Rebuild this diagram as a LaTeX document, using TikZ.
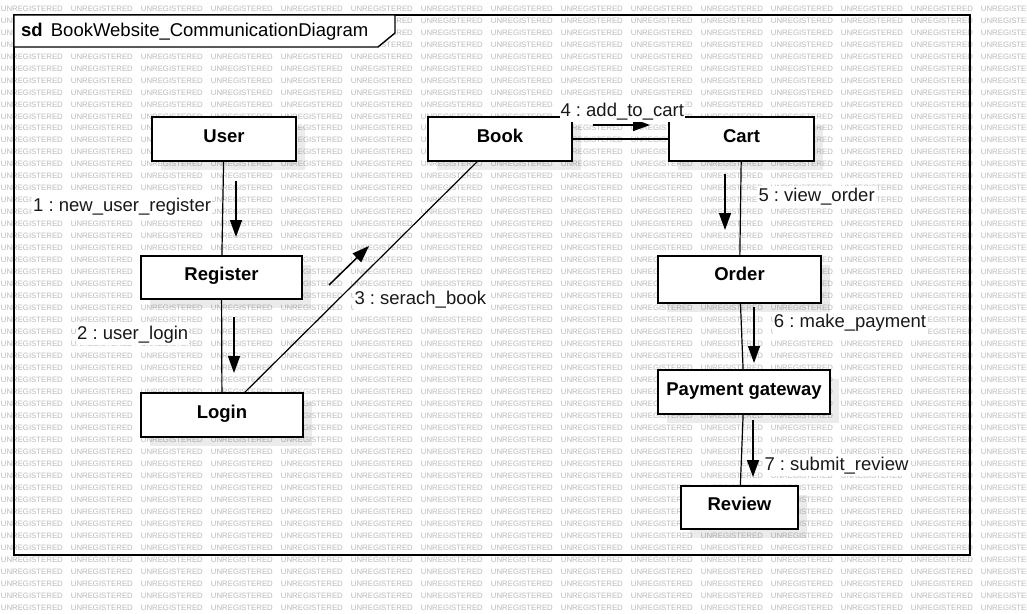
\documentclass[tikz,border=0pt]{standalone}
\usepackage{fontspec}
\setmainfont{Liberation Sans}
\frenchspacing
\usetikzlibrary{arrows.meta,shadows}
\tikzset{
  wm/.style={anchor=west,inner sep=0pt,font=\fontsize{7.8}{8}\selectfont,text=black!27},
  obj/.style={draw=black,line width=1.4pt,fill=white,inner sep=0pt,
    font=\fontsize{18.5}{20}\selectfont\bfseries,text height=13pt,text depth=6pt,
    drop shadow={shadow xshift=9pt,shadow yshift=-9pt,fill=black,opacity=0.08}},
  link/.style={draw=black,line width=1.2pt},
  msg/.style={draw=black,line width=1.5pt,-{Triangle[length=17pt,width=12pt]}},
  lbl/.style={anchor=base west,fill=white,inner xsep=1pt,inner ysep=2pt,
    font=\fontsize{18.5}{20}\selectfont\frenchspacing,text=black!90},
}
\begin{document}
\begin{tikzpicture}[x=1pt,y=-1pt]
\useasboundingbox[fill=white] (0,0) rectangle (1027,613);
% watermark
\foreach \r in {0,...,50}{
  \foreach \c in {0,...,14}{
    \node[wm] at ({\c*70+0.7},{8.5+\r*11.98}) {UNREGISTERED};
  }
}
% frame
\draw[line width=1.4pt] (14,15) rectangle (970,555);
\coordinate (tA) at (14,15);
\coordinate (tB) at (395,15);
\coordinate (tC) at (395,33);
\coordinate (tD) at (378,47);
\coordinate (tE) at (14,47);
\draw[line width=1.4pt,fill=white] (tA) -- (tB) -- (tC) -- (tD) -- (tE) -- cycle;
\node[anchor=base west,inner sep=0pt,font=\fontsize{18.5}{20}\selectfont\bfseries] (sd) at (21,36) {sd};
\node[anchor=base west,inner sep=0pt,font=\fontsize{18.5}{20}\selectfont] (title) at (50.7,36) {BookWebsite\_CommunicationDiagram};
% objects
\node[obj,minimum width=144pt,minimum height=44pt] (user) at (224,139) {User};
\node[obj,minimum width=161pt,minimum height=43pt,text depth=7.5pt] (register) at (221.5,277.5) {Register};
\node[obj,minimum width=162pt,minimum height=44pt] (login) at (222,415) {Login};
\node[obj,minimum width=144pt,minimum height=44pt] (book) at (500,139) {Book};
\node[obj,minimum width=145pt,minimum height=44pt] (cart) at (741.5,139) {Cart};
\node[obj,minimum width=163pt,minimum height=47pt,text depth=10.5pt] (order) at (739.5,279.5) {Order};
\node[obj,minimum width=172pt,minimum height=44pt] (pay) at (744,392) {Payment gateway};
\node[obj,minimum width=117pt,minimum height=43pt,text depth=7.5pt] (review) at (739.5,507.5) {Review};
% links
\draw[link] (user) -- (register);
\draw[link] (register) -- (login);
\draw[link] (login) -- (book);
\draw[link] (book) -- (cart);
\draw[link] (cart) -- (order);
\draw[link] (order) -- (pay);
\draw[link] (pay) -- (review);
% messages
\coordinate (m1a) at (236,181); \coordinate (m1b) at (236,237);
\coordinate (m2a) at (234,317); \coordinate (m2b) at (234,373);
\coordinate (m3a) at (329,285); \coordinate (m3b) at (369,246);
\coordinate (m4a) at (593,125); \coordinate (m4b) at (650,125);
\coordinate (m5a) at (725,174); \coordinate (m5b) at (725,230);
\coordinate (m6a) at (754,307); \coordinate (m6b) at (754,363);
\coordinate (m7a) at (753,420); \coordinate (m7b) at (753,477);
\draw[msg] (m1a) -- (m1b);
\draw[msg] (m2a) -- (m2b);
\draw[msg] (m3a) -- (m3b);
\draw[msg] (m4a) -- (m4b);
\draw[msg] (m5a) -- (m5b);
\draw[msg] (m6a) -- (m6b);
\draw[msg] (m7a) -- (m7b);
% labels
\node[lbl] (l1) at (32,211.5) {1 : new\_user\_register};
\node[lbl] (l2) at (76,339.3) {2 : user\_login};
\node[lbl] (l3) at (353.3,304) {3 : serach\_book};
\node[lbl] (l4) at (559.3,116) {4 : add\_to\_cart};
\node[lbl] (l5) at (757.3,201) {5 : view\_order};
\node[lbl] (l6) at (772.7,327.7) {6 : make\_payment};
\node[lbl] (l7) at (763.3,470.7) {7 : submit\_review};
\end{tikzpicture}
\end{document}
